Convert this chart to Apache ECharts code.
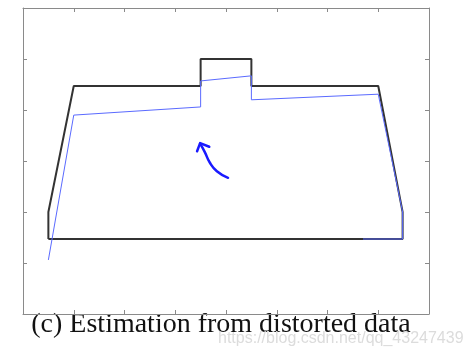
<!DOCTYPE html>
<html>
<head>
<meta charset="utf-8">
<script src="https://cdn.jsdelivr.net/npm/echarts@6/dist/echarts.min.js"></script>
<style>html,body{margin:0;padding:0;background:#fff;}#c{width:471px;height:358px;}</style>
</head>
<body>
<div id="c"></div>
<script>
// Ground-truth outline (black)
const trueX = [0.5, 0.5, 1.0, 3.5, 3.5, 4.5, 4.5, 7.0, 7.48, 7.48, 0.5];
const trueY = [1.47, 2.0, 4.47, 4.47, 5.0, 5.0, 4.47, 4.47, 2.0, 1.47, 1.47];
// Estimated outline (blue)
const estX = [0.5, 1.0, 3.5, 3.5, 4.5, 4.5, 7.0, 7.48, 7.48, 6.7];
const estY = [1.06, 3.9, 4.06, 4.57, 4.67, 4.2, 4.31, 2.0, 1.47, 1.47];
// Annotation arrow
const arrowX = [4.04, 3.82, 3.68, 3.58, 3.49];
const arrowY = [2.67, 2.8, 2.97, 3.18, 3.34];
const headX = [3.43, 3.49, 3.67];
const headY = [3.19, 3.35, 3.28];
const xTicks = [0, 1, 2, 3, 4, 5, 6, 7, 8];
const yTicks = [0, 1, 2, 3, 4, 5, 6];
const caption = "(c) Estimation from distorted data";
const watermark = "https://blog.csdn.net/qq_43247439";

const zip = (a, b) => a.map((v, i) => [v, b[i]]);
const chart = echarts.init(document.getElementById('c'));
function axis(extra) {
  return Object.assign({
    type: 'value', interval: 1,
    axisLine: { show: true, onZero: false, lineStyle: { color: '#8a8a8a', width: 1 } },
    axisTick: { show: true, inside: true, length: 4, lineStyle: { color: '#8a8a8a' } },
    axisLabel: { show: false }, splitLine: { show: false }
  }, extra);
}
chart.setOption({
  animation: false,
  backgroundColor: '#fff',
  grid: { left: 23, right: 42, top: 8, bottom: 44 },
  xAxis: [
    axis({ min: xTicks[0], max: xTicks[xTicks.length - 1], position: 'bottom' }),
    axis({ min: xTicks[0], max: xTicks[xTicks.length - 1], position: 'top' })
  ],
  yAxis: [
    axis({ min: yTicks[0], max: yTicks[yTicks.length - 1], position: 'left' }),
    axis({ min: yTicks[0], max: yTicks[yTicks.length - 1], position: 'right' })
  ],
  series: [
    { type: 'line', data: zip(trueX, trueY), showSymbol: false, symbol: 'none',
      lineStyle: { color: '#333333', width: 2 } },
    { type: 'line', data: zip(estX, estY), showSymbol: false, symbol: 'none',
      lineStyle: { color: '#5a6aff', width: 1 } },
    { type: 'line', data: zip(arrowX, arrowY), smooth: true, showSymbol: false, symbol: 'none',
      lineStyle: { color: '#1a1aff', width: 2.5, cap: 'round' } },
    { type: 'line', data: zip(headX, headY), showSymbol: false, symbol: 'none',
      lineStyle: { color: '#1a1aff', width: 2.5, cap: 'round', join: 'round' } }
  ],
  graphic: [
    { type: 'text', x: 221, y: 325, style: { text: caption, font: '28px "Liberation Serif"', fill: '#111',
      textAlign: 'center', textVerticalAlign: 'middle' } },
    { type: 'text', x: 218, y: 339, style: { text: watermark, font: '16px "Liberation Sans"', fill: '#dcdcdc',
      textAlign: 'left', textVerticalAlign: 'middle' } }
  ]
});
</script>
</body>
</html>
